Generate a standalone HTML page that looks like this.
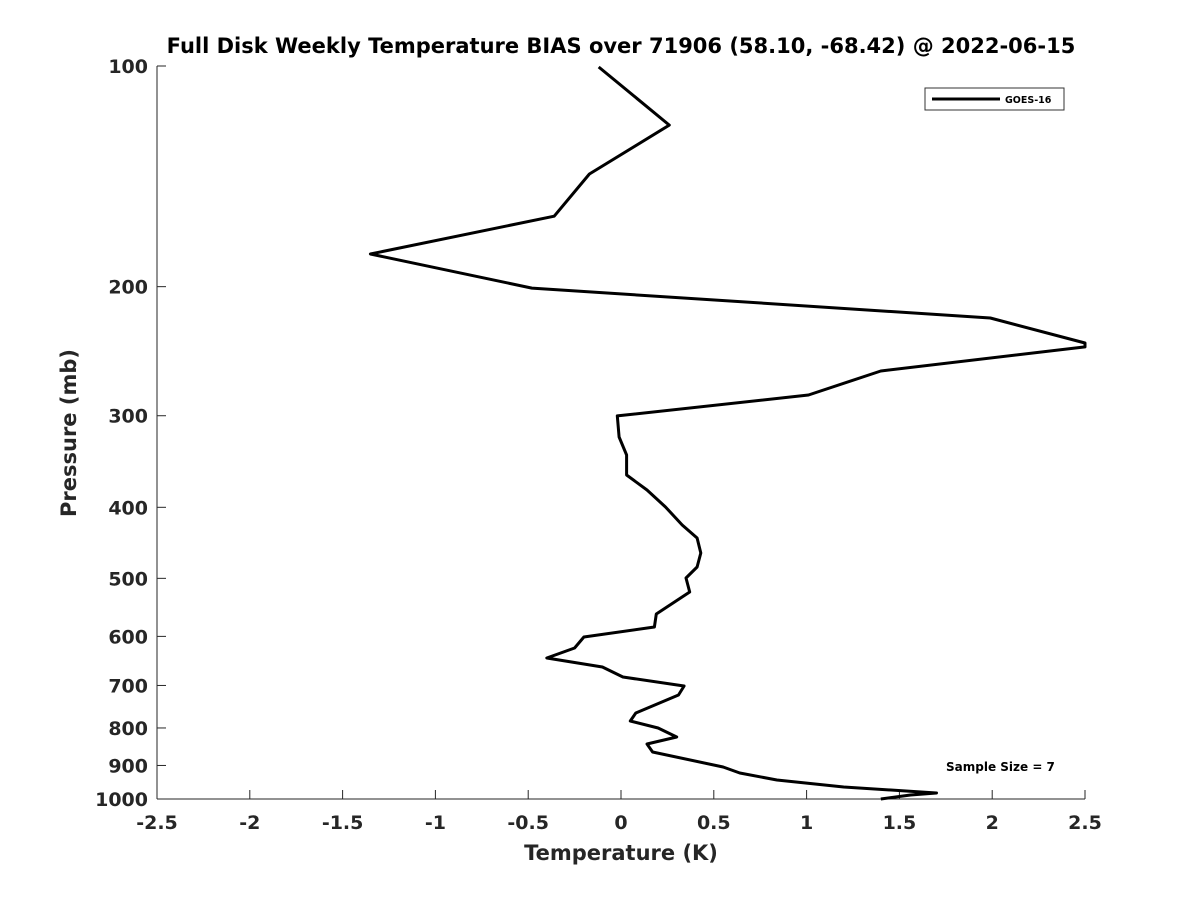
<!DOCTYPE html>
<html><head><meta charset="utf-8"><style>
html,body{margin:0;padding:0;background:#fff;}
svg text{font-family:"DejaVu Sans","Liberation Sans",sans-serif;font-weight:bold;fill:#262626;}
</style></head><body>
<svg id="chart" width="1200" height="900" xmlns="http://www.w3.org/2000/svg">
<rect width="1200" height="900" fill="#fff"/>
<text x="621" y="53" font-size="21" text-anchor="middle" style="fill:#000">Full Disk Weekly Temperature BIAS over 71906 (58.10, -68.42) @ 2022-06-15</text>
<g id="axes"></g>
<path id="series" fill="none" stroke="#000" stroke-width="3" stroke-linejoin="round"/>
<g>
<rect x="925" y="88" width="139" height="22" fill="#fff" stroke="#333" stroke-width="1"/>
<line x1="932" y1="99" x2="1000" y2="99" stroke="#000" stroke-width="3"/>
<text x="1005" y="103" font-size="9.5" style="fill:#000">GOES-16</text>
</g>
<text x="946" y="771" font-size="12" style="fill:#000">Sample Size = 7</text>
<text x="621" y="860" font-size="21" text-anchor="middle">Temperature (K)</text>
<text transform="translate(76,433) rotate(-90)" font-size="21" text-anchor="middle">Pressure (mb)</text>
</svg>
<script>
const temps=[-0.12,0.26,-0.17,-0.36,-1.35,-0.48,1.99,2.5,2.5,1.40,1.01,-0.02,-0.01,0.03,0.03,0.14,0.24,0.33,0.41,0.43,0.41,0.35,0.37,0.19,0.18,-0.20,-0.25,-0.40,-0.10,0.01,0.34,0.31,0.08,0.05,0.20,0.30,0.14,0.17,0.55,0.64,0.84,1.20,1.70,1.56,1.40];
const pressures=[100.3,120.4,140.4,160.3,180.5,200.9,220.7,238.7,241.7,260.7,281.1,300.2,320.7,339.4,361.4,378.8,399.6,422.9,440.5,461.7,482.5,499.4,521.9,559.2,582.5,601.2,622.3,642.2,660.6,681.7,701.2,721.3,763.3,782.7,800.0,823.0,841.4,862.8,904.3,921.6,942.1,963.0,981.3,987.4,1000];
const xTicks=[-2.5,-2,-1.5,-1,-0.5,0,0.5,1,1.5,2,2.5];
const yTicks=[100,200,300,400,500,600,700,800,900,1000];
const X0=157,X1=1085,Y0=66,Y1=799;
function xs(t){return X0+(t+2.5)/5*(X1-X0);}
function ys(p){return Y0+Math.log10(p/100)*(Y1-Y0);}
const NS="http://www.w3.org/2000/svg";
const ax=document.getElementById('axes');
function mk(tag,attrs,parent){const e=document.createElementNS(NS,tag);for(const k in attrs)e.setAttribute(k,attrs[k]);parent.appendChild(e);return e;}
const yl=mk('line',{x1:X0,y1:Y0,x2:X0,y2:Y1,stroke:'#262626','stroke-width':1},ax);


const xl=mk('line',{x1:X0,y1:Y1,x2:X1,y2:Y1,stroke:'#262626','stroke-width':1},ax);


xTicks.forEach(t=>{
 const x=xs(t);
 const tk=mk('line',{x1:x,y1:Y1,x2:x,y2:Y1-9,stroke:'#262626','stroke-width':1},ax);
 
 
 const tx=mk('text',{x:x,y:Y1+30,'font-size':19,'text-anchor':'middle'},ax);
 tx.textContent=String(t);
 
 
});
yTicks.forEach(p=>{
 const y=ys(p);
 const tk=mk('line',{x1:X0,y1:y,x2:X0+9,y2:y,stroke:'#262626','stroke-width':1},ax);
 
 
 const tx=mk('text',{x:X0-9,y:y+7,'font-size':19,'text-anchor':'end'},ax);
 tx.textContent=String(p);
 
 
});
let d='';
temps.forEach((t,i)=>{d+=(i?'L':'M')+xs(t).toFixed(1)+','+ys(pressures[i]).toFixed(1);});
document.getElementById('series').setAttribute('d',d);
</script>
</body></html>
